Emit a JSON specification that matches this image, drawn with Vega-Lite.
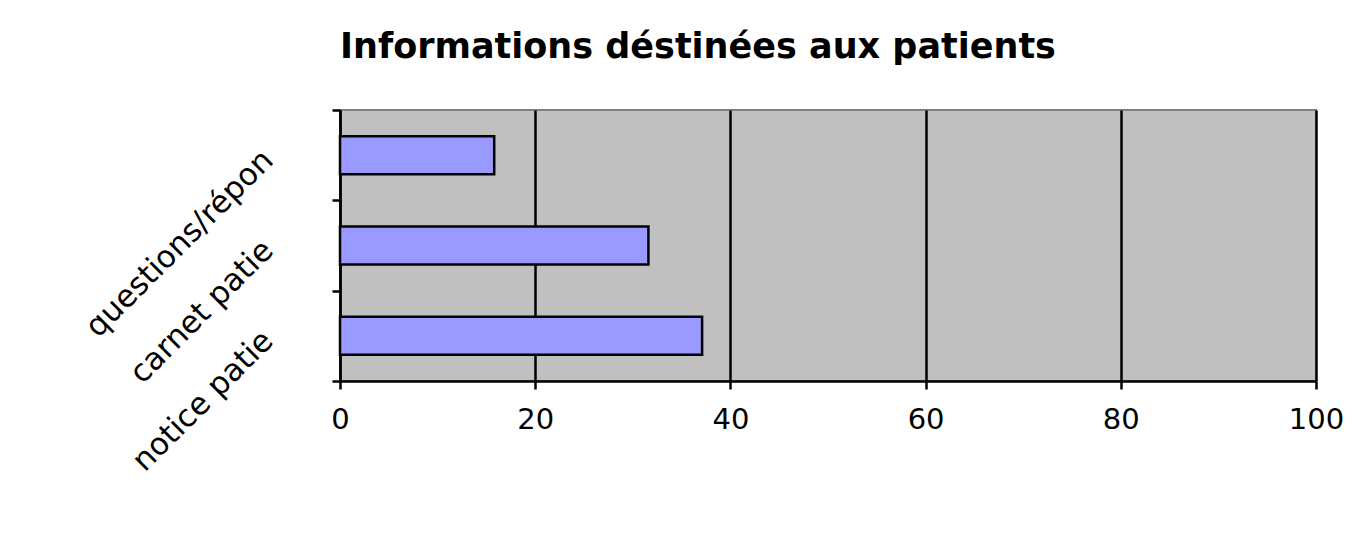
{
  "$schema": "https://vega.github.io/schema/vega-lite/v6.json",
  "width": 976,
  "height": 271,
  "autosize": {"type": "none"},
  "padding": {"left": 340, "top": 110, "right": 45, "bottom": 164},
  "background": "#ffffff",
  "title": {
    "text": "Informations déstinées aux patients",
    "anchor": "start",
    "frame": "group",
    "font": "DejaVu Sans",
    "fontSize": 35,
    "fontWeight": "bold",
    "color": "#000000",
    "baseline": "alphabetic",
    "offset": 6
  },
  "data": {
    "values": [
      {"categorie": "questions/réponses", "valeur": 15.8},
      {"categorie": "carnet patient", "valeur": 31.6},
      {"categorie": "notice patient", "valeur": 37.1}
    ]
  },
  "mark": {"type": "bar", "size": 38, "fill": "#9999ff", "stroke": "#000000", "strokeWidth": 2.5},
  "encoding": {
    "x": {
      "field": "valeur",
      "type": "quantitative",
      "scale": {"domain": [0, 100], "nice": false, "zero": true},
      "axis": {
        "title": null,
        "values": [0, 20, 40, 60, 80, 100],
        "grid": true,
        "gridColor": "#000000",
        "gridWidth": 2.5,
        "gridOpacity": 1,
        "domainColor": "#000000",
        "domainWidth": 2.5,
        "tickColor": "#000000",
        "tickWidth": 2.5,
        "tickSize": 8,
        "labelFont": "DejaVu Sans",
        "labelFontSize": 29,
        "labelColor": "#000000",
        "labelPadding": 16,
        "labelFlush": false
      }
    },
    "y": {
      "field": "categorie",
      "type": "nominal",
      "sort": null,
      "scale": {"paddingInner": 0, "paddingOuter": 0},
      "axis": {
        "title": null,
        "tickBand": "extent",
        "grid": false,
        "domainColor": "#000000",
        "domainWidth": 2.5,
        "tickColor": "#000000",
        "tickWidth": 2.5,
        "tickSize": 8,
        "labelAngle": -45,
        "labelAlign": "right",
        "labelBaseline": "middle",
        "labelFont": "DejaVu Sans",
        "labelFontSize": 31,
        "labelColor": "#000000",
        "labelPadding": 64,
        "labelLimit": 0,
        "labelExpr": "datum.label == 'questions/réponses' ? 'questions/répon' : slice(datum.label, 0, 12)"
      }
    }
  },
  "config": {
    "view": {"fill": "#c0c0c0", "stroke": "#808080", "strokeWidth": 2}
  }
}
